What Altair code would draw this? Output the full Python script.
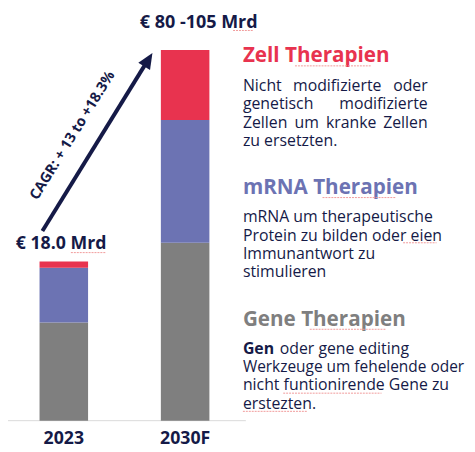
import altair as alt
import pandas as pd

FONT = "Open Sans"
NAVY = "#151a47"
SQUIG = "#f19a9a"

years = ["2023", "2030F"]
segments = ["Gene Therapien", "mRNA Therapien", "Zell Therapien"]
gene_vals = [11.1, 20.1]
mrna_vals = [6.2, 13.9]
cell_vals = [0.7, 7.9]
seg_colors = ["#7f7f7f", "#6c73b3", "#e8334f"]
totals = ["€ 18.0 Mrd", "€ 80 -105 Mrd"]
cagr_label = "CAGR: + 13 to +18.3%"

rows = []
for i, yr in enumerate(years):
    for j, (s, vals) in enumerate(zip(segments, [gene_vals, mrna_vals, cell_vals])):
        rows.append({"year": yr, "segment": s, "value": vals[i], "ord": j})
df = pd.DataFrame(rows)

xscale = alt.Scale(domain=years, paddingInner=0.6, paddingOuter=0.26)
yscale = alt.Scale(domain=[0, 46.22], nice=False, zero=True)

bars = alt.Chart(df).mark_bar().encode(
    x=alt.X("year:N", scale=xscale, axis=None, sort=years),
    y=alt.Y("value:Q", scale=yscale, axis=None, stack="zero"),
    color=alt.Color("segment:N", scale=alt.Scale(domain=segments, range=seg_colors), legend=None),
    order=alt.Order("ord:Q"),
)

xlabels = alt.Chart(pd.DataFrame({"year": years})).mark_text(
    font=FONT, fontSize=18, fontWeight="bold", color=NAVY, baseline="middle"
).encode(
    x=alt.X("year:N", scale=xscale, axis=None, sort=years),
    y=alt.value(435),
    text="year:N",
)

BODY = 16.1
TITLE = 21


def txt(s, x, y, size=BODY, color=NAVY, weight="normal", align="left", angle=None):
    kw = dict(font=FONT, fontSize=size, fontWeight=weight, color=color,
              align=align, baseline="middle")
    if angle is not None:
        kw["angle"] = angle
    return alt.Chart(pd.DataFrame({"t": [s]})).mark_text(**kw).encode(
        x=alt.value(x), y=alt.value(y), text="t:N"
    )


one = pd.DataFrame({"a": [0]})


def squiggle(x1, x2, y):
    return alt.Chart(one).mark_rule(color=SQUIG, strokeWidth=1, strokeDash=[2, 1]).encode(
        x=alt.value(x1), x2=alt.value(x2), y=alt.value(y)
    )


baseline = alt.Chart(one).mark_rule(color="#d9d9d9", strokeWidth=1).encode(
    x=alt.value(-5), x2=alt.value(242), y=alt.value(416)
)
arrow_line = alt.Chart(one).mark_rule(color=NAVY, strokeWidth=4, strokeCap="butt").encode(
    x=alt.value(35), y=alt.value(223), x2=alt.value(140), y2=alt.value(53)
)
arrow_head = alt.Chart(one).mark_point(
    shape="M0,-1L0.7,0.6L-0.7,0.6Z", filled=True, size=400, angle=31.7,
    color=NAVY, opacity=1, strokeWidth=0
).encode(x=alt.value(141.7), y=alt.value(50.5))

layers = [baseline, bars, xlabels, arrow_line, arrow_head]

layers.append(txt(totals[0], 54, 236, size=18, weight="bold", align="center"))
layers.append(txt(totals[1], 194, 11, size=18.3, weight="bold", align="center"))
layers.append(txt(cagr_label, 66, 126, size=14.7, weight="bold", align="center", angle=301.7))

# Zell (justified lines)
layers.append(txt("Zell Therapien", 239, 45, size=TITLE, weight="bold", color=seg_colors[2]))
zy = [76, 94, 113, 132]
layers += [
    txt("Nicht", 239, zy[0]), txt("modifizierte", 290, zy[0]), txt("oder", 427, zy[0], align="right"),
    txt("genetisch", 239, zy[1]), txt("modifizierte", 427, zy[1], align="right"),
    txt("Zellen", 239, zy[2]), txt("um", 291.5, zy[2]), txt("kranke", 323.5, zy[2]),
    txt("Zellen", 427, zy[2], align="right"),
    txt("zu ersetzten.", 239, zy[3]),
]

# mRNA
layers.append(txt("mRNA Therapien", 239, 179, size=TITLE, weight="bold", color=seg_colors[1]))
my = [209, 228, 247, 265]
mlines = ["mRNA um therapeutische", "Protein zu bilden oder eien", "Immunantwort zu", "stimulieren"]
layers += [txt(s, 239, yy) for s, yy in zip(mlines, my)]

# Gene
layers.append(txt("Gene Therapien", 239, 314, size=TITLE, weight="bold", color=seg_colors[0]))
gy = [343, 361, 380, 399]
layers.append(txt("Gen", 239, gy[0], weight="bold"))
layers.append(txt("oder gene editing", 276.5, gy[0]))
layers.append(txt("Werkzeuge um fehelende oder", 239, gy[1], size=15.7))
layers.append(txt("nicht funtionirende Gene zu", 239, gy[2]))
layers.append(txt("erstezten.", 239, gy[3]))

# spell-check underlines seen in the reference
layers += [
    squiggle(229, 249, 19),
    squiggle(64, 99, 245),
    squiggle(292, 369, 55),
    squiggle(320, 395, 189),
    squiggle(307, 384, 323),
    squiggle(402, 436, 235),
    squiggle(280, 380, 388),
    squiggle(239, 304, 406.5),
]

chart = alt.layer(*layers).properties(
    width=237,
    height=416,
    autosize=alt.AutoSizeParams(type="none"),
    padding={"left": 0, "top": 0, "right": 230, "bottom": 28},
).configure_view(stroke=None)

chart.save("out.html", embed_options={"renderer": "svg", "actions": False})
